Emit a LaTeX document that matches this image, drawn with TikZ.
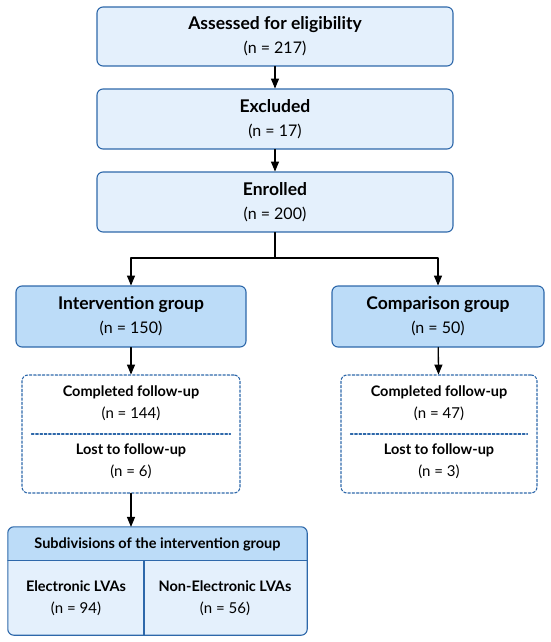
\documentclass[tikz,border=0pt]{standalone}
\usepackage{fontspec}
\setmainfont{Lato}
\usetikzlibrary{arrows}
\definecolor{boxline}{RGB}{46,104,170}
\definecolor{boxfill}{RGB}{228,240,252}
\definecolor{grpfill}{RGB}{188,220,248}
\newcommand{\ttl}[1]{{\fontsize{17.5}{24}\selectfont\bfseries #1}}
\newcommand{\subttl}[1]{{\fontsize{14.5}{22}\selectfont\bfseries #1}}
\tikzset{
  box/.style={draw=boxline,line width=1.1pt,fill=boxfill,rounded corners=6pt,align=center,
    font=\fontsize{16}{24}\selectfont},
  grpbox/.style={box,fill=grpfill},
  fubox/.style={draw=boxline,line width=1.1pt,dash pattern=on 2.5pt off 1.8pt,rounded corners=6pt},
  futext/.style={align=center,font=\fontsize{15}{22}\selectfont},
  arr/.style={->,line width=1.3pt}
}
\begin{document}
\begin{tikzpicture}[line cap=round,line join=round,>=triangle 45,x=1pt,y=-1pt]
\useasboundingbox (0,0) rectangle (550,642);
% main boxes
\node[box,minimum width=356pt,minimum height=59pt] (assess) at (275,36.5) {\ttl{Assessed for eligibility}\\(n = 217)};
\node[box,minimum width=356pt,minimum height=60pt] (excl) at (275,119) {\ttl{Excluded}\\(n = 17)};
\node[box,minimum width=356pt,minimum height=60pt] (enrol) at (275,202) {\ttl{Enrolled}\\(n = 200)};
\draw[arr] (assess) -- (excl);
\draw[arr] (excl) -- (enrol);
% split into groups
\node[grpbox,minimum width=230pt,minimum height=61pt] (interv) at (131,316.5) {\ttl{Intervention group}\\(n = 150)};
\node[grpbox,minimum width=212pt,minimum height=61pt] (comp) at (438,316.5) {\ttl{Comparison group}\\(n = 50)};
\coordinate (split) at (275,258);
\draw[line width=1.3pt] (enrol) -- (split);
\draw[arr] (split) -| (interv);
\draw[arr] (split) -| (comp);
% follow-up
\node[fubox,minimum width=218pt,minimum height=118pt] (intfu) at (131,434) {};
\node[fubox,minimum width=196pt,minimum height=118pt] (compfu) at (439,434) {};
\node[futext] (intdone) at (131,403) {\subttl{Completed follow-up}\\(n = 144)};
\node[futext] (intlost) at (131,461) {\subttl{Lost to follow-up}\\(n = 6)};
\node[futext] (compdone) at (439,403) {\subttl{Completed follow-up}\\(n = 47)};
\node[futext] (complost) at (439,461) {\subttl{Lost to follow-up}\\(n = 3)};
\draw[fubox,rounded corners=0pt] ([xshift=10pt]intfu.west) -- ([xshift=-10pt]intfu.east);
\draw[fubox,rounded corners=0pt] ([xshift=10pt]compfu.west) -- ([xshift=-10pt]compfu.east);
\draw[arr] (interv) -- (intfu);
\draw[arr] (comp) -- (compfu);
% subdivisions
\node[minimum width=299pt,minimum height=108pt] (subdiv) at (157.5,581) {};
\fill[boxfill,rounded corners=6pt] (subdiv.north west) rectangle (subdiv.south east);
\begin{scope}
\clip (subdiv.north west) rectangle ([yshift=-34pt]subdiv.north east);
\fill[grpfill,rounded corners=6pt] (subdiv.north west) rectangle (subdiv.south east);
\end{scope}
\draw[boxline,line width=1.1pt,rounded corners=6pt] (subdiv.north west) rectangle (subdiv.south east);
\coordinate (hl) at ([yshift=-34pt]subdiv.north west);
\coordinate (hr) at ([yshift=-34pt]subdiv.north east);
\draw[boxline,line width=1.1pt] (hl) -- (hr);
\coordinate (mid) at (144,561);
\draw[boxline,line width=1.1pt] (mid) -- (mid |- subdiv.south);
\node[futext] (subhead) at (157.5,544) {\subttl{Subdivisions of the intervention group}};
\node[futext] (elec) at (76,598) {\subttl{Electronic LVAs}\\(n = 94)};
\node[futext] (nonelec) at (225,598) {\subttl{Non-Electronic LVAs}\\(n = 56)};
\draw[arr] (intfu.south) -- (intfu.south |- subdiv.north);
\end{tikzpicture}
\end{document}
